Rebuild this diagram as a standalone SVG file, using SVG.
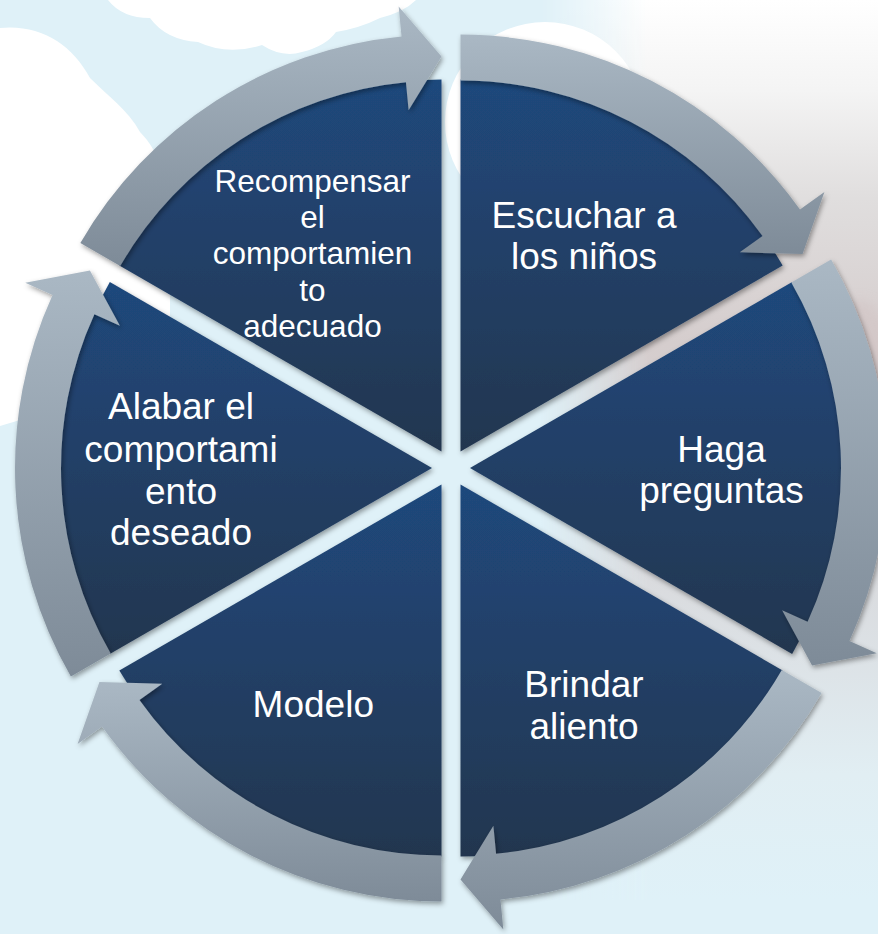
<svg xmlns="http://www.w3.org/2000/svg" width="878" height="934" viewBox="0 0 878 934">
  <defs>
    <linearGradient id="wedgeGrad" x1="0" y1="0" x2="0" y2="1">
      <stop offset="0" stop-color="#1F487C"/>
      <stop offset="1" stop-color="#23364F"/>
    </linearGradient>
    <linearGradient id="arrowGrad" x1="0" y1="0" x2="0" y2="1">
      <stop offset="0" stop-color="#AAB8C4"/>
      <stop offset="1" stop-color="#7E8B98"/>
    </linearGradient>
    <linearGradient id="photoV" x1="0" y1="0" x2="0" y2="1">
      <stop offset="0" stop-color="#FFFFFF"/>
      <stop offset="0.1" stop-color="#F4F4F4"/>
      <stop offset="0.22" stop-color="#E0DEDE"/>
      <stop offset="0.38" stop-color="#D5CDCD"/>
      <stop offset="0.55" stop-color="#D6D3D5"/>
      <stop offset="0.72" stop-color="#DCE1E5"/>
      <stop offset="0.86" stop-color="#E1EEF3"/>
      <stop offset="1" stop-color="#DFF1F8"/>
    </linearGradient>
    <linearGradient id="photoFade" x1="0" y1="0" x2="1" y2="0">
      <stop offset="0" stop-color="#000"/>
      <stop offset="0.32" stop-color="#FFF"/>
      <stop offset="1" stop-color="#FFF"/>
    </linearGradient>
    <mask id="photoMask" maskUnits="userSpaceOnUse" x="540" y="0" width="338" height="934">
      <rect x="540" y="0" width="338" height="934" fill="url(#photoFade)"/>
    </mask>
    <filter id="sh" x="-10%" y="-10%" width="120%" height="120%">
      <feDropShadow dx="1.5" dy="2.5" stdDeviation="2.5" flood-color="#000" flood-opacity="0.38"/>
    </filter>
    <filter id="soft" x="-20%" y="-20%" width="140%" height="140%">
      <feGaussianBlur stdDeviation="6"/>
    </filter>
  </defs>
  <style>
    .wedge { fill: url(#wedgeGrad); filter: url(#sh); }
    .arrow { fill: url(#arrowGrad); filter: url(#sh); }
    .lbl { font-family: "Liberation Sans", Arial, sans-serif; fill: #FFFFFF; text-anchor: middle; font-size: 37px; }
    .lbl.small { font-size: 31.5px; }
    .cloud { fill: #FFFFFF; }
  </style>

  <!-- background scene -->
  <g id="background">
    <rect x="0" y="0" width="878" height="934" fill="#DFF1F8"/>
    <rect x="540" y="0" width="338" height="900" fill="url(#photoV)" mask="url(#photoMask)"/>
    <ellipse cx="860" cy="420" rx="40" ry="120" fill="#D2C4C4" opacity="0.6" filter="url(#soft)"/>
    <path class="cloud" d="M0,28 C40,24 72,44 90,78 C108,96 128,110 140,132 C160,152 170,185 170,222 L170,330 C140,362 80,392 20,420 L0,426 Z"/>
    <path class="cloud" d="M108,0 Q122,18 150,18 Q166,40 198,42 Q228,56 262,45 Q282,58 302,52 Q326,46 336,32 Q360,28 380,18 Q404,12 416,0 Z"/>
    <circle class="cloud" cx="545" cy="122" r="100"/>
  </g>

  <!-- segments -->
  <g id="node-escuchar">
    <path class="wedge" d="M460.5,451.55 L460.5,79.55 A372,372 0 0 1 782.66,265.55 Z"/>
    <text class="lbl" x="584" y="228">Escuchar a</text>
    <text class="lbl" x="584" y="269">los niños</text>
  </g>
  <g id="node-haga">
    <path class="wedge" d="M470,468 L792.16,282 A372,372 0 0 1 792.16,654 Z"/>
    <text class="lbl" x="721.5" y="462">Haga</text>
    <text class="lbl" x="721.5" y="503">preguntas</text>
  </g>
  <g id="node-brindar">
    <path class="wedge" d="M460.5,484.45 L782.66,670.45 A372,372 0 0 1 460.5,856.45 Z"/>
    <text class="lbl" x="584" y="697">Brindar</text>
    <text class="lbl" x="584" y="738.5">aliento</text>
  </g>
  <g id="node-modelo">
    <path class="wedge" d="M441.5,484.45 L441.5,856.45 A372,372 0 0 1 119.34,670.45 Z"/>
    <text class="lbl" x="313.3" y="716.5">Modelo</text>
  </g>
  <g id="node-alabar">
    <path class="wedge" d="M432,468 L109.84,654 A372,372 0 0 1 109.84,282 Z"/>
    <text class="lbl" x="181" y="419">Alabar el</text>
    <text class="lbl" x="181" y="461.5">comportami</text>
    <text class="lbl" x="181" y="503.5">ento</text>
    <text class="lbl" x="181" y="545">deseado</text>
  </g>
  <g id="node-recompensar">
    <path class="wedge" d="M441.5,451.55 L119.34,265.55 A372,372 0 0 1 441.5,79.55 Z"/>
    <text class="lbl small" x="312.5" y="192.4">Recompensar</text>
    <text class="lbl small" x="312.5" y="228.4">el</text>
    <text class="lbl small" x="312.5" y="264.4">comportamien</text>
    <text class="lbl small" x="312.5" y="300.6">to</text>
    <text class="lbl small" x="312.5" y="336.8">adecuado</text>
  </g>

  <!-- connectors: curved arrows -->
  <g id="connectors">
    <path class="arrow" d="M460.5,34.55 A417,417 0 0 1 799.99,209.40 L824.41,191.98 L802.58,254.05 L739.74,252.37 L762.54,236.11 A371,371 0 0 0 460.5,80.55 Z"/>
    <path class="arrow" d="M831.13,259.5 A417,417 0 0 1 849.45,640.93 L876.75,653.37 L812.08,665.5 L782.12,610.24 L807.60,621.85 A371,371 0 0 0 791.30,282.5 Z"/>
    <path class="arrow" d="M821.63,692.95 A417,417 0 0 1 500.47,899.53 L503.34,929.39 L460.5,879.45 L493.38,825.87 L496.06,853.74 A371,371 0 0 0 781.80,669.95 Z"/>
    <path class="arrow" d="M441.5,901.45 A417,417 0 0 1 102.01,726.60 L77.59,744.02 L99.42,681.95 L162.26,683.63 L139.46,699.89 A371,371 0 0 0 441.5,855.45 Z"/>
    <path class="arrow" d="M70.87,676.5 A417,417 0 0 1 52.55,295.07 L25.25,282.63 L89.92,270.5 L119.88,325.76 L94.40,314.15 A371,371 0 0 0 110.70,653.5 Z"/>
    <path class="arrow" d="M80.37,243.05 A417,417 0 0 1 401.53,36.47 L398.66,6.61 L441.5,56.55 L408.62,110.13 L405.94,82.26 A371,371 0 0 0 120.20,266.05 Z"/>
  </g>
</svg>
